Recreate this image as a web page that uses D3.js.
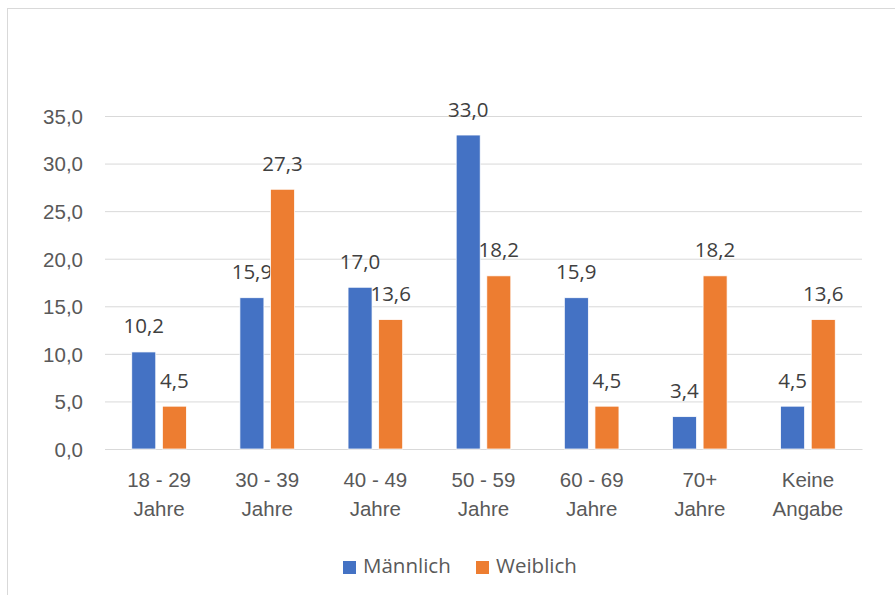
<!DOCTYPE html>
<html>
<head>
<meta charset="utf-8">
<script src="https://cdn.jsdelivr.net/npm/d3@7"></script>
<style>
  html, body { margin: 0; padding: 0; background: #fff; }
  svg { display: block; font-family: "Open Sans", "Noto Sans", sans-serif; }
</style>
</head>
<body>
<svg id="chart" width="895" height="595"></svg>
<script>
// Altersgruppen (two-line labels)
const categories = [
  ["18 - 29", "Jahre"],
  ["30 - 39", "Jahre"],
  ["40 - 49", "Jahre"],
  ["50 - 59", "Jahre"],
  ["60 - 69", "Jahre"],
  ["70+", "Jahre"],
  ["Keine", "Angabe"]
];
const seriesNames = ["Männlich", "Weiblich"];
const maennlich = [10.2, 15.9, 17.0, 33.0, 15.9, 3.4, 4.5];
const weiblich  = [4.5, 27.3, 13.6, 18.2, 4.5, 18.2, 13.6];
const yTicks = [0, 5, 10, 15, 20, 25, 30, 35];
const colors = ["#4472C4", "#ED7D31"];

const FS = 20.5;
const svg = d3.select("#chart");
const fmt = v => d3.format(".1f")(v).replace(".", ",");

// chart frame
svg.append("rect")
  .attr("x", 7.5).attr("y", 8.5)
  .attr("width", 1000).attr("height", 1000)
  .attr("fill", "none").attr("stroke", "#D9D9D9").attr("stroke-width", 1);

const catKeys = categories.map(c => c.join(" "));
const x = d3.scaleBand().domain(catKeys).range([105, 862]).padding(0);
const xs = d3.scaleBand().domain(seriesNames)
  .range([0, x.bandwidth()]).paddingInner(0.216).paddingOuter(0.874);
const y = d3.scaleLinear().domain([0, 35]).range([449, 116]);

// gridlines and value axis labels
const yAxis = d3.axisLeft(y).tickValues(yTicks)
  .tickSize(-(862 - 105)).tickFormat(fmt).tickPadding(22);
const gy = svg.append("g").attr("transform", "translate(105,0)").call(yAxis);
gy.select(".domain").remove();
gy.selectAll(".tick line").attr("stroke", "#D9D9D9").attr("stroke-width", 1);
gy.selectAll(".tick text")
  .attr("fill", "#595959").attr("font-size", FS)
  .attr("dy", "0.36em");

// category labels
const xAxis = d3.axisBottom(x).tickSize(0).tickFormat(() => "");
const gx = svg.append("g").attr("transform", "translate(0,449)").call(xAxis);
gx.select(".domain").attr("stroke", "#D9D9D9");
gx.selectAll(".tick").each(function(d, i) {
  const t = d3.select(this).append("text")
    .attr("fill", "#595959").attr("font-size", FS)
    .attr("text-anchor", "middle");
  categories[i].forEach((line, j) => {
    t.append("tspan").attr("x", 0).attr("y", 38 + j * 29).text(line);
  });
});

// bars with value labels
const data = seriesNames.map((s, si) => ({
  name: s,
  color: colors[si],
  values: (si === 0 ? maennlich : weiblich)
}));

data.forEach(series => {
  const g = svg.append("g");
  g.selectAll("rect")
    .data(series.values)
    .join("rect")
    .attr("x", (d, i) => x(catKeys[i]) + xs(series.name))
    .attr("y", d => y(d))
    .attr("width", xs.bandwidth())
    .attr("height", d => y(0) - y(d))
    .attr("fill", series.color)
    .attr("stroke", "#fff").attr("stroke-width", 0.75);
  g.selectAll("text")
    .data(series.values)
    .join("text")
    .attr("x", (d, i) => x(catKeys[i]) + xs(series.name) + xs.bandwidth() / 2)
    .attr("y", d => y(d) - 18.5)
    .attr("text-anchor", "middle")
    .attr("fill", "#404040").attr("font-size", FS)
    .text(d => fmt(d));
});

// legend
const legend = svg.append("g");
const legendItems = [
  { name: seriesNames[0], color: colors[0], x: 343 },
  { name: seriesNames[1], color: colors[1], x: 476 }
];
legendItems.forEach(it => {
  legend.append("rect")
    .attr("x", it.x).attr("y", 561).attr("width", 13).attr("height", 13)
    .attr("fill", it.color);
  legend.append("text")
    .attr("x", it.x + 20).attr("y", 573)
    .attr("fill", "#595959").attr("font-size", FS)
    .text(it.name);
});
</script>
</body>
</html>
